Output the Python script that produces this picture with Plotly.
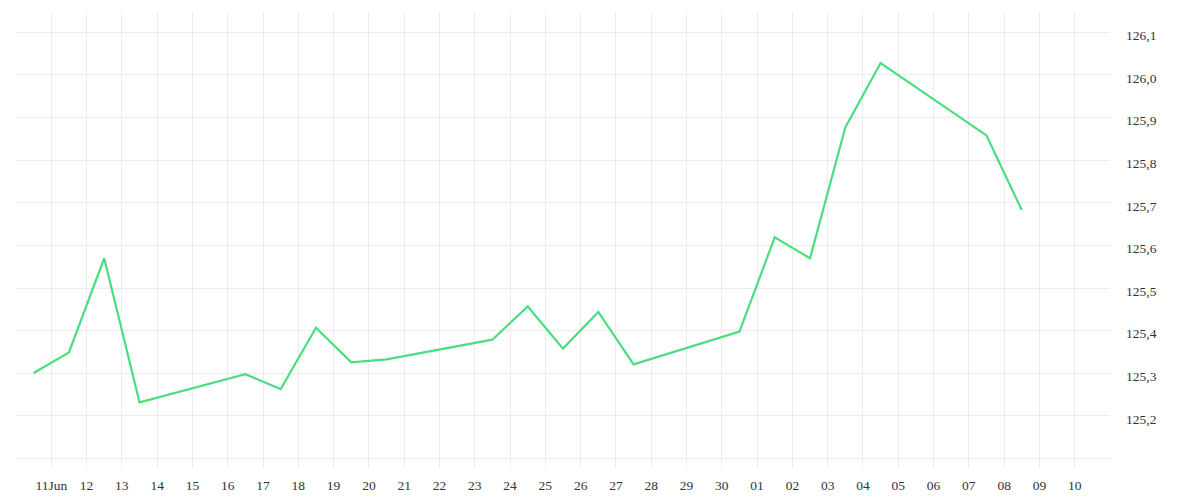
import plotly.graph_objects as go
from datetime import datetime, timedelta

# Data (trading days, plotted at midday)
dates = [
    "2025-06-10", "2025-06-11", "2025-06-12", "2025-06-13",
    "2025-06-16", "2025-06-17", "2025-06-18", "2025-06-19", "2025-06-20",
    "2025-06-23", "2025-06-24", "2025-06-25", "2025-06-26", "2025-06-27",
    "2025-06-30", "2025-07-01", "2025-07-02", "2025-07-03", "2025-07-04",
    "2025-07-07", "2025-07-08",
]
values = [
    125.301, 125.349, 125.570, 125.232,
    125.298, 125.263, 125.407, 125.326, 125.333,
    125.379, 125.457, 125.358, 125.444, 125.321,
    125.398, 125.619, 125.570, 125.877, 126.028,
    125.858, 125.683,
]

y_tickvals = [125.1, 125.2, 125.3, 125.4, 125.5, 125.6, 125.7, 125.8, 125.9, 126.0, 126.1]
y_ticktext = ["", "125,2", "125,3", "125,4", "125,5", "125,6", "125,7", "125,8", "125,9", "126,0", "126,1"]

x_start = datetime(2025, 6, 10)
x_end = datetime(2025, 7, 11)
x_tickvals = [x_start + timedelta(days=i) for i in range(32)]
x_ticktext = []
for d in x_tickvals:
    if d == x_start or d == x_end:
        x_ticktext.append("")
    elif d.day == 11 and d.month == 6:
        x_ticktext.append("11Jun")
    else:
        x_ticktext.append(f"{d.day:02d}")

x_vals = [datetime.strptime(d, "%Y-%m-%d") + timedelta(hours=12) for d in dates]

fig = go.Figure()
fig.add_trace(go.Scatter(
    x=x_vals, y=values, mode="lines",
    line=dict(color="#4ade80", width=2.2),
    hoverinfo="skip",
))

grid = "#ececec"
fig.update_layout(
    width=1184, height=484,
    margin=dict(l=8, r=82, t=4, b=24),
    paper_bgcolor="white", plot_bgcolor="white",
    showlegend=False,
    font=dict(family="Liberation Serif", size=13.5, color="#333333"),
    xaxis=dict(
        range=[x_start, x_end],
        tickmode="array", tickvals=x_tickvals, ticktext=x_ticktext,
        showgrid=True, gridcolor=grid, gridwidth=1,
        zeroline=False, showline=False, ticks="",
        ticklabelstandoff=7, automargin=False,
    ),
    yaxis=dict(
        side="right",
        range=[125.078, 126.1476],
        tickmode="array", tickvals=y_tickvals, ticktext=y_ticktext,
        showgrid=True, gridcolor=grid, gridwidth=1,
        zeroline=False, showline=False, ticks="",
        ticklabelstandoff=15, automargin=False,
        ticklabelshift=3,
    ),
)

fig.write_html("out.html")
